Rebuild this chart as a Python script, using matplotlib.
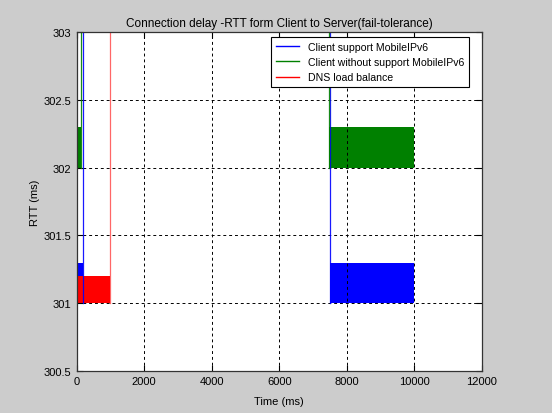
import matplotlib
matplotlib.use("Agg")
import matplotlib.pyplot as plt

plt.rcParams['font.family'] = ['Liberation Sans', 'DejaVu Sans']

labels = ['Client support MobileIPv6', 'Client without support MobileIPv6', 'DNS load balance']
colors = ['#0000ff', '#008000', '#ff0000']

# RTT bands (start ms, end ms) and their (low, high) RTT range
blue_bands = [(0, 190), (7510, 10000)]
blue_range = (301.0, 301.3)
blue_jumps = [190, 7505]

green_bands = [(0, 130), (7470, 10000)]
green_range = (302.0, 302.3)
green_jumps = [130, 7470]

red_bands = [(0, 1000)]
red_range = (301.0, 301.2)
red_jumps = [1000]

series = [
    (blue_bands, blue_range, blue_jumps),
    (green_bands, green_range, green_jumps),
    (red_bands, red_range, red_jumps),
]

xticks = [0, 2000, 4000, 6000, 8000, 10000, 12000]
yticks = [300.5, 301, 301.5, 302, 302.5, 303]

fig = plt.figure(figsize=(5.52, 4.14), dpi=100, facecolor='#cccccc')
ax = fig.add_axes([0.1386, 0.1014, 0.7346, 0.8189])
ax.set_facecolor('white')

for (bands, (lo, hi), jumps), c, lab in zip(series, colors, labels):
    for t0, t1 in bands:
        ax.fill_between([t0, t1], [lo, lo], [hi, hi], color=c, lw=0)
    for t in jumps:
        ax.plot([t, t], [lo, 320], color=c, lw=0.9, alpha=0.6 if c == '#ff0000' else 0.9)
    ax.plot([], [], color=c, lw=1, label=lab)

ax.set_xlim(0, 12000)
ax.set_ylim(300.5, 303)
ax.set_xticks(xticks)
ax.set_yticks(yticks)
ax.set_yticklabels(['300.5', '301', '301.5', '302', '302.5', '303'])
ax.tick_params(direction='in', top=True, right=True, labelsize=8, length=4, width=0.8)
ax.grid(True, color='black', linestyle=(0, (3, 3)), lw=0.7)
for s in ax.spines.values():
    s.set_linewidth(0.9)
    s.set_color('#333333')

ax.set_xlabel('Time (ms)', fontsize=8, labelpad=7)
ax.set_ylabel('RTT (ms)', fontsize=8, labelpad=3)
ax.set_title('Connection delay -RTT form Client to Server(fail-tolerance)', fontsize=8.5, pad=4)

leg = ax.legend(loc='upper right', fontsize=7.6, frameon=True, fancybox=False,
                edgecolor='black', framealpha=1, handlelength=2.2,
                borderpad=0.45, labelspacing=0.5, handletextpad=0.8,
                bbox_to_anchor=(0.968, 0.985), borderaxespad=0)
leg.get_frame().set_linewidth(0.8)

fig.savefig('out.png', dpi=100, facecolor=fig.get_facecolor())
